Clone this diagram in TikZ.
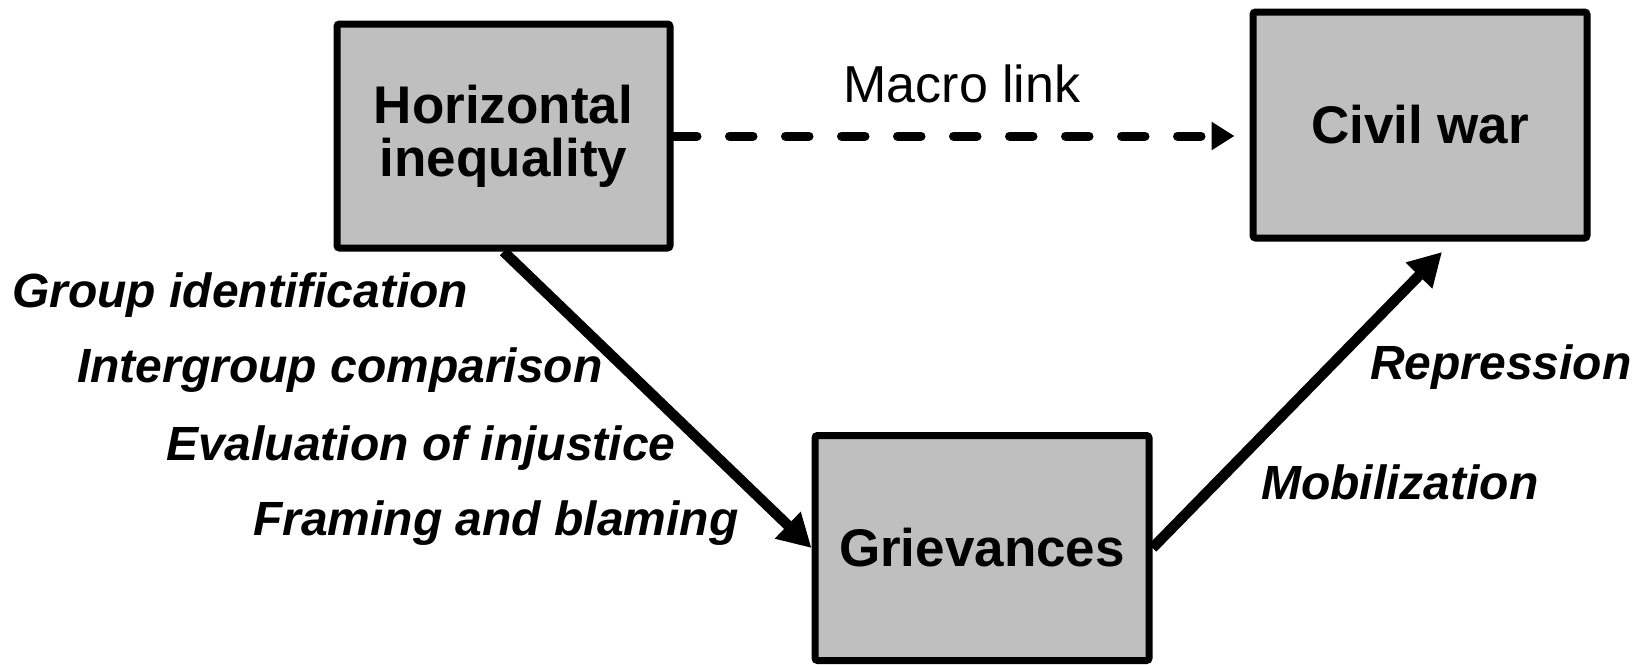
\documentclass[tikz,border=0pt]{standalone}
\usepackage{fontspec}
\setmainfont{Liberation Sans}
\usetikzlibrary{arrows.meta}
\definecolor{boxgray}{RGB}{191,191,191}
\begin{document}
\begin{tikzpicture}[x=1pt,y=-1pt,
  box/.style={draw=black, line width=7pt, fill=boxgray, rounded corners=2.5pt,
    inner sep=0pt, align=center,
    font=\fontsize{53}{53}\selectfont\bfseries},
  lbl/.style={font=\fontsize{48}{48}\selectfont\bfseries\itshape, inner sep=0pt, anchor=base west},
  bigarrow/.style={line width=10.5pt, -{Triangle[length=33pt,width=35pt]}},
  dasharrow/.style={line width=9pt, line cap=round, dash pattern=on 23.5pt off 32.5pt,
    -{Triangle[length=23pt,width=27pt]}}]
\useasboundingbox (0,0) rectangle (1641,664);

\node[box, minimum width=333pt, minimum height=224pt] (hi) at (503.5,136) {Horizontal\\inequality};
\node[box, minimum width=334pt, minimum height=226pt] (cw) at (1420,125) {Civil war};
\node[box, minimum width=334pt, minimum height=225pt] (gr) at (982,548) {Grievances};

\coordinate (cwin) at (1442,252);

\draw[dasharrow, shorten >=15pt] (hi.east) -- (hi.east -| cw.west);
\draw[bigarrow] (hi.south) -- (gr.west);
\draw[bigarrow] (gr.east) -- (cwin);

\node[font=\fontsize{52}{52}\selectfont, inner sep=0pt, anchor=base] (macro) at (962,102) {Macro link};

\node[lbl] (l1) at (12,307) {Group identification};
\node[lbl] (l2) at (77,382) {Intergroup comparison};
\node[lbl] (l3) at (166,460) {Evaluation of injustice};
\node[lbl] (l4) at (253,535) {Framing and blaming};

\node[lbl] (rep) at (1370,379) {Repression};
\node[lbl] (mob) at (1261,499) {Mobilization};
\end{tikzpicture}
\end{document}
